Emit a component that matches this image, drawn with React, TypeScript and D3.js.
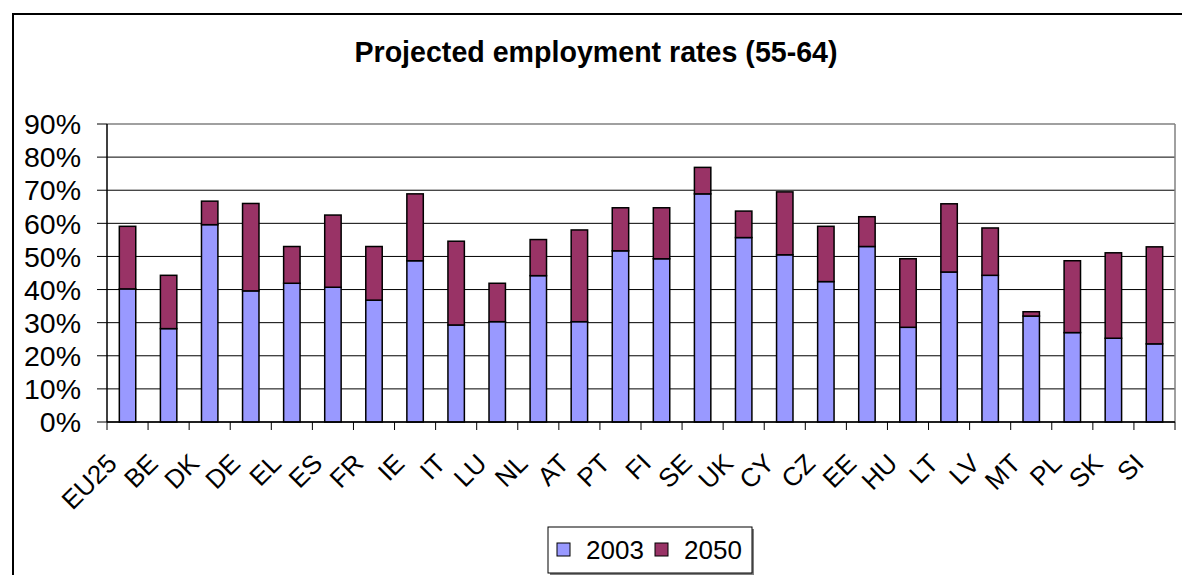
import React from "react";
import * as d3 from "d3";

const categories = ["EU25","BE","DK","DE","EL","ES","FR","IE","IT","LU","NL","AT","PT","FI","SE","UK","CY","CZ","EE","HU","LT","LV","MT","PL","SK","SI"];
const rate2003 = [40.2,28.2,59.6,39.6,41.9,40.7,36.8,48.7,29.3,30.3,44.2,30.3,51.7,49.3,68.9,55.7,50.5,42.4,53.0,28.6,45.3,44.3,32.0,27.0,25.3,23.6];
const rate2050 = [59.1,44.3,66.7,66.0,53.0,62.5,53.0,68.9,54.6,41.9,55.1,58.0,64.7,64.7,76.9,63.7,69.5,59.1,62.0,49.3,65.9,58.6,33.3,48.7,51.1,52.9];
const yTicks = [0,10,20,30,40,50,60,70,80,90];
const seriesNames = ["2003","2050"];
const seriesColors = ["#9999FF","#993366"];

const W = 1182, H = 575;
const plot = { left: 107, right: 1175, top: 124, bottom: 422 };
const FONT = "Liberation Sans, Arial, sans-serif";

export default function App() {
  const x = d3.scaleBand<string>().domain(categories).range([plot.left, plot.right]).paddingInner(0.6).paddingOuter(0.3);
  const xb = d3.scaleBand<string>().domain(categories).range([plot.left, plot.right]);
  const y = d3.scaleLinear().domain([0, 90]).range([plot.bottom, plot.top]);
  const bw = xb.bandwidth() / 2.5;

  return (
    <svg width={W} height={H} style={{ position: "absolute", left: 0, top: 0, background: "#fff" }} fontFamily={FONT}>
      <rect x={0} y={0} width={W} height={H} fill="#fff" />
      <rect x={13} y={14} width={W + 20} height={H + 20} fill="none" stroke="#000" strokeWidth={2} />
      <text x={596} y={62} textAnchor="middle" fontSize={28.6} fontWeight="bold">Projected employment rates (55-64)</text>

      {/* gridlines */}
      {yTicks.map((t) => (
        <line key={"g" + t} x1={plot.left} x2={plot.right} y1={y(t)} y2={y(t)}
          stroke={t === 90 ? "#808080" : "#000"} strokeWidth={t === 90 ? 1.5 : 1} />
      ))}
      <line x1={plot.right} x2={plot.right} y1={plot.top} y2={plot.bottom} stroke="#808080" strokeWidth={1.5} />

      {/* y ticks & labels */}
      {yTicks.map((t) => (
        <g key={"y" + t}>
          <line x1={plot.left - 10} x2={plot.left} y1={y(t)} y2={y(t)} stroke="#000" />
          <text x={81} y={y(t)} dy="0.36em" textAnchor="end" fontSize={28.5}>{t + "%"}</text>
        </g>
      ))}

      {/* bars */}
      {categories.map((c, i) => {
        const cx = (xb(c) as number) + xb.bandwidth() / 2;
        const x0 = cx - bw / 2;
        return (
          <g key={"b" + c}>
            <rect x={x0} y={y(rate2003[i])} width={bw} height={y(0) - y(rate2003[i])} fill={seriesColors[0]} stroke="#000" strokeWidth={1.5} />
            <rect x={x0} y={y(rate2050[i])} width={bw} height={y(rate2003[i]) - y(rate2050[i])} fill={seriesColors[1]} stroke="#000" strokeWidth={1.5} />
          </g>
        );
      })}

      {/* axes */}
      <line x1={plot.left} x2={plot.left} y1={plot.top} y2={plot.bottom} stroke="#000" strokeWidth={1.5} />
      <line x1={plot.left} x2={plot.right} y1={plot.bottom} y2={plot.bottom} stroke="#000" strokeWidth={1.5} />
      {categories.concat(["_end"]).map((c, i) => {
        const tx = plot.left + i * xb.bandwidth();
        return <line key={"xt" + i} x1={tx} x2={tx} y1={plot.bottom} y2={plot.bottom + 8} stroke="#000" />;
      })}
      {categories.map((c) => {
        const cx = (xb(c) as number) + xb.bandwidth() / 2;
        const ax = cx - 9, ay = 465;
        return (
          <text key={"xl" + c} x={ax} y={ay} textAnchor="end" fontSize={26} transform={`rotate(-45 ${ax} ${ay})`}>{c}</text>
        );
      })}

      {/* legend */}
      <rect x={550} y={529} width={204} height={46} fill="#808080" />
      <rect x={548} y={527} width={204} height={46} fill="#fff" stroke="#000" strokeWidth={1} />
      {seriesNames.map((s, i) => {
        const lx = [557, 655][i];
        return (
          <g key={"l" + s}>
            <rect x={lx} y={543} width={13} height={13} fill={seriesColors[i]} stroke="#000" strokeWidth={1} />
            <text x={lx + 29} y={559} fontSize={26}>{s}</text>
          </g>
        );
      })}
    </svg>
  );
}
